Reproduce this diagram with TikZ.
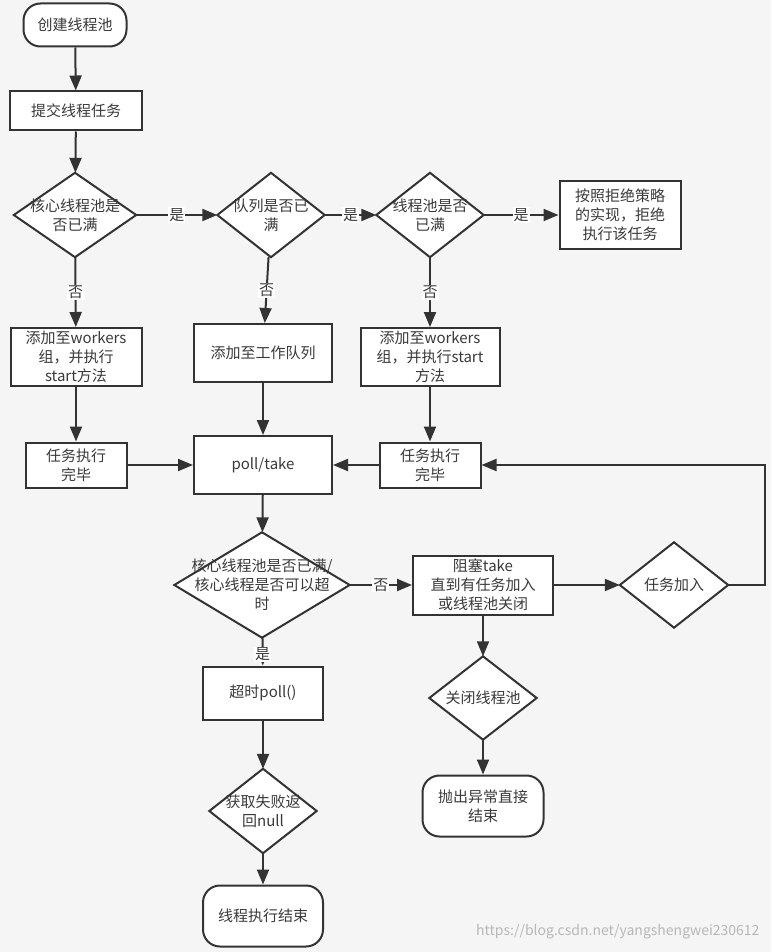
\documentclass[tikz,border=0pt]{standalone}
\usepackage{fontspec}
\setmainfont{Noto Sans CJK SC}
\usetikzlibrary{arrows.meta}
\definecolor{bgc}{HTML}{F5F5F5}
\definecolor{lnc}{HTML}{333333}
\definecolor{txc}{HTML}{3A3A3A}
\pgfdeclarelayer{bg}
\pgfdeclarelayer{back}
\pgfsetlayers{bg,back,main}

\begin{document}
\begin{tikzpicture}[x=1pt, y=-1pt,
    txt/.style={text=txc, font=\fontsize{15}{19}\selectfont, align=center, inner sep=0pt},
    box/.style={txt, draw=lnc, line width=2pt, fill=white},
    term/.style={box, rounded corners=17pt},
    dec/.style={txt, append after command={\pgfextra{\begin{pgfonlayer}{back}\draw[draw=lnc, line width=2pt, fill=white] (\tikzlastnode.north) -- (\tikzlastnode.east) -- (\tikzlastnode.south) -- (\tikzlastnode.west) -- cycle;\end{pgfonlayer}}}},
    arr/.style={draw=lnc, line width=2pt, -{Triangle[length=15pt, width=12pt]}},
    lbl/.style={fill=white, inner sep=1pt, text=txc, font=\fontsize{15}{17}\selectfont}
]
\begin{pgfonlayer}{bg}
\fill[bgc] (0,0) rectangle (771,952);
\end{pgfonlayer}

\node[term, minimum width=103pt, minimum height=43pt] (start) at (75,25) {创建线程池};
\node[box, minimum width=132pt, minimum height=39pt] (submit) at (76,111) {提交线程任务};
\node[dec, minimum width=122pt, minimum height=84pt] (core) at (75,215) {核心线程池是\\否已满};
\node[dec, minimum width=107pt, minimum height=84pt] (queue) at (271,215) {队列是否已\\满};
\node[dec, minimum width=107pt, minimum height=84pt] (pool) at (430,215) {线程池是否\\已满};
\node[box, minimum width=121pt, minimum height=68pt] (reject) at (620,215) {按照拒绝策略\\的实现，拒绝\\执行该任务};
\node[box, minimum width=131pt, minimum height=58pt] (addl) at (76,357) {添加至workers\\组，并执行\\start方法};
\node[box, minimum width=138pt, minimum height=58pt] (addq) at (263,353) {添加至工作队列};
\node[box, minimum width=139pt, minimum height=58pt] (addr) at (430,357) {添加至workers\\组，并执行start\\方法};
\node[box, minimum width=101pt, minimum height=45pt] (donel) at (76,465) {任务执行\\完毕};
\node[box, minimum width=138pt, minimum height=58pt] (poll) at (263,465) {poll/take};
\node[box, minimum width=101pt, minimum height=45pt] (doner) at (430,465) {任务执行\\完毕};
\node[dec, minimum width=175pt, minimum height=105pt] (idle) at (262,585) {核心线程池是否已满/\\核心线程是否可以超\\时};
\node[box, minimum width=140pt, minimum height=59pt] (block) at (483,585) {阻塞take\\直到有任务加入\\或线程池关闭};
\node[dec, minimum width=108pt, minimum height=85pt] (newtask) at (674,585) {任务加入};
\node[dec, minimum width=107pt, minimum height=83pt] (shut) at (483,698) {关闭线程池};
\node[term, minimum width=121pt, minimum height=61pt] (throw) at (483,806) {抛出异常直接\\结束};
\node[box, minimum width=120pt, minimum height=53pt] (tpoll) at (263,693) {超时poll()};
\node[dec, minimum width=107pt, minimum height=84pt] (fail) at (263,811) {获取失败返\\回null};
\node[term, minimum width=120pt, minimum height=61pt] (finish) at (263,916) {线程执行结束};
\node[text=black!28, font=\fontsize{14}{16}\selectfont, anchor=east] (wm) at (763,932) {https://blog.csdn.net/yangshengwei230612};

\draw[arr] (start) -- (submit);
\draw[arr] (submit) -- (core);
\draw[arr] (core) -- node[lbl] {是} (queue);
\draw[arr] (queue) -- node[lbl] {是} (pool);
\draw[arr] (pool) -- node[lbl] {是} (reject);
\draw[arr] (core) -- node[lbl] {否} (addl);
\draw[arr] (queue) -- node[lbl] {否} (addq);
\draw[arr] (pool) -- node[lbl] {否} (addr);
\draw[arr] (addl) -- (donel);
\draw[arr] (addq) -- (poll);
\draw[arr] (addr) -- (doner);
\draw[arr] (donel) -- (poll);
\draw[arr] (doner) -- (poll);
\draw[arr] (poll) -- (idle);
\draw[arr] (idle) -- node[lbl] {否} (block);
\draw[arr] (idle) -- node[lbl, pos=0.6] {是} (tpoll);
\draw[arr] (block) -- (newtask);
\draw[arr] (newtask.east) -- ++(37,0) |- (doner.east);
\draw[arr] (block) -- (shut);
\draw[arr] (shut) -- (throw);
\draw[arr] (tpoll) -- (fail);
\draw[arr] (fail) -- (finish);
\end{tikzpicture}
\end{document}
